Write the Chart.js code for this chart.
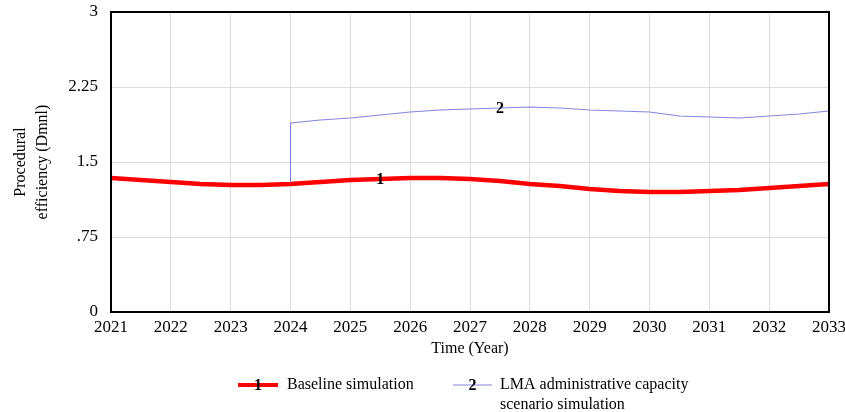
<!DOCTYPE html>
<html>
<head>
<meta charset="utf-8">
<script src="https://cdn.jsdelivr.net/npm/chart.js@4"></script>
<style>
  html, body { margin: 0; padding: 0; background: #ffffff; }
  #wrap { width: 845px; height: 412px; position: relative; }
</style>
</head>
<body>
<div id="wrap"><canvas id="c" width="845" height="412"></canvas></div>
<script>
// ---- data ----
const baselineYears = [2021, 2021.5, 2022, 2022.5, 2023, 2023.5, 2024, 2024.5, 2025, 2025.5, 2026, 2026.5, 2027, 2027.5, 2028, 2028.5, 2029, 2029.5, 2030, 2030.5, 2031, 2031.5, 2032, 2032.5, 2033];
const baselineValues = [1.34, 1.32, 1.30, 1.28, 1.27, 1.27, 1.28, 1.30, 1.32, 1.33, 1.34, 1.34, 1.33, 1.31, 1.28, 1.26, 1.23, 1.21, 1.20, 1.20, 1.21, 1.22, 1.24, 1.26, 1.28];

const scenarioYears = [2021, 2021.5, 2022, 2022.5, 2023, 2023.5, 2024, 2024, 2024.5, 2025, 2025.5, 2026, 2026.5, 2027, 2027.5, 2028, 2028.5, 2029, 2029.5, 2030, 2030.5, 2031, 2031.5, 2032, 2032.5, 2033];
const scenarioValues = [1.33, 1.31, 1.29, 1.27, 1.26, 1.26, 1.27, 1.89, 1.92, 1.94, 1.97, 2.00, 2.02, 2.03, 2.04, 2.05, 2.04, 2.02, 2.01, 2.00, 1.96, 1.95, 1.94, 1.96, 1.98, 2.01];

const seriesNames = ['Baseline simulation', ['LMA administrative capacity', 'scenario simulation']];
const seriesNumbers = ['1', '2'];
const numberLabelIndex = [9, 14]; // index in each series where the line number sits

const yTickValues = [0, 0.75, 1.5, 2.25, 3];
const yTickLabels = ['0', '.75', '1.5', '2.25', '3'];
const xTickLabels = ['2021', '2022', '2023', '2024', '2025', '2026', '2027', '2028', '2029', '2030', '2031', '2032', '2033'];

const yTitle = ['Procedural', 'efficiency (Dmnl)'];
const xTitle = 'Time (Year)';

// ---- styling ----
const SERIF = "'Liberation Serif', 'Times New Roman', serif";
const RED = '#ff0000';
const BLUE = '#8585e0';

function toPoints(xs, ys) { return xs.map((x, i) => ({ x: x, y: ys[i] })); }

const framePlugin = {
  id: 'frameAndLegend',
  afterDatasetsDraw(chart) {
    const { ctx, chartArea: a, scales } = chart;
    ctx.save();
    // frame
    ctx.strokeStyle = '#000';
    ctx.lineWidth = 2;
    ctx.strokeRect(a.left, a.top, a.right - a.left, a.bottom - a.top);

    // numbers on the lines
    ctx.font = 'bold 16px ' + SERIF;
    ctx.fillStyle = '#000';
    ctx.textAlign = 'center';
    ctx.textBaseline = 'middle';
    chart.data.datasets.forEach((ds, i) => {
      const p = ds.data[numberLabelIndex[i]];
      const px = scales.x.getPixelForValue(p.x);
      const py = scales.y.getPixelForValue(p.y);
      ctx.fillText(seriesNumbers[i], px, py + 1);
    });

    // legend
    const legendY = 385;
    const items = [
      { x0: 238, x1: 278, tx: 287, color: RED, width: 4 },
      { x0: 453, x1: 492, tx: 500, color: BLUE, width: 1.2 }
    ];
    items.forEach((it, i) => {
      ctx.strokeStyle = it.color;
      ctx.lineWidth = it.width;
      ctx.beginPath();
      ctx.moveTo(it.x0, legendY);
      ctx.lineTo(it.x1, legendY);
      ctx.stroke();
      ctx.font = 'bold 16px ' + SERIF;
      ctx.fillStyle = '#000';
      ctx.textAlign = 'center';
      ctx.fillText(seriesNumbers[i], (it.x0 + it.x1) / 2, legendY + 1);
      ctx.font = '16px ' + SERIF;
      ctx.textAlign = 'left';
      const lines = Array.isArray(seriesNames[i]) ? seriesNames[i] : [seriesNames[i]];
      lines.forEach((t, k) => ctx.fillText(t, it.tx, legendY + k * 20));
    });
    ctx.restore();
  }
};

new Chart(document.getElementById('c'), {
  type: 'line',
  data: {
    datasets: [
      {
        label: 'Baseline simulation',
        data: toPoints(baselineYears, baselineValues),
        borderColor: RED,
        backgroundColor: RED,
        borderWidth: 4.5,
        pointRadius: 0,
        tension: 0,
        order: 0
      },
      {
        label: 'LMA administrative capacity scenario simulation',
        data: toPoints(scenarioYears, scenarioValues),
        borderColor: BLUE,
        backgroundColor: BLUE,
        borderWidth: 1.2,
        pointRadius: 0,
        tension: 0,
        order: 1
      }
    ]
  },
  options: {
    responsive: false,
    animation: false,
    devicePixelRatio: 1,
    layout: { padding: { left: 0, right: 16, top: 12, bottom: 0 } },
    plugins: { legend: { display: false }, tooltip: { enabled: false } },
    scales: {
      x: {
        type: 'linear',
        min: 2021,
        max: 2033,
        afterBuildTicks(scale) {
          scale.ticks = xTickLabels.map(t => ({ value: Number(t) }));
        },
        afterFit(scale) {
          scale.height = 100;
          scale.paddingLeft = 0;
          scale.paddingRight = 0;
        },
        ticks: {
          autoSkip: false,
          maxRotation: 0,
          padding: 5,
          color: '#000',
          font: { family: SERIF, size: 17 },
          callback: (v) => xTickLabels[xTickLabels.indexOf(String(v))] || ''
        },
        grid: { color: '#dddddd', lineWidth: 1, drawTicks: false },
        border: { display: false },
        title: {
          display: true,
          text: xTitle,
          color: '#000',
          font: { family: SERIF, size: 16, lineHeight: 1.25 },
          padding: { top: 0, bottom: 53 }
        }
      },
      y: {
        min: 0,
        max: 3,
        afterBuildTicks(scale) {
          scale.ticks = yTickValues.map(v => ({ value: v }));
        },
        afterFit(scale) {
          scale.width = 111;
          scale.paddingTop = 0;
          scale.paddingBottom = 0;
        },
        ticks: {
          padding: 13,
          color: '#000',
          font: { family: SERIF, size: 17 },
          callback: (v) => {
            const i = yTickValues.indexOf(v);
            return i >= 0 ? yTickLabels[i] : '';
          }
        },
        grid: { color: '#dddddd', lineWidth: 1, drawTicks: false },
        border: { display: false },
        title: {
          display: true,
          text: yTitle,
          color: '#000',
          font: { family: SERIF, size: 16, lineHeight: 1.375 },
          padding: { top: 10, bottom: 0 }
        }
      }
    }
  },
  plugins: [framePlugin]
});
</script>
</body>
</html>
